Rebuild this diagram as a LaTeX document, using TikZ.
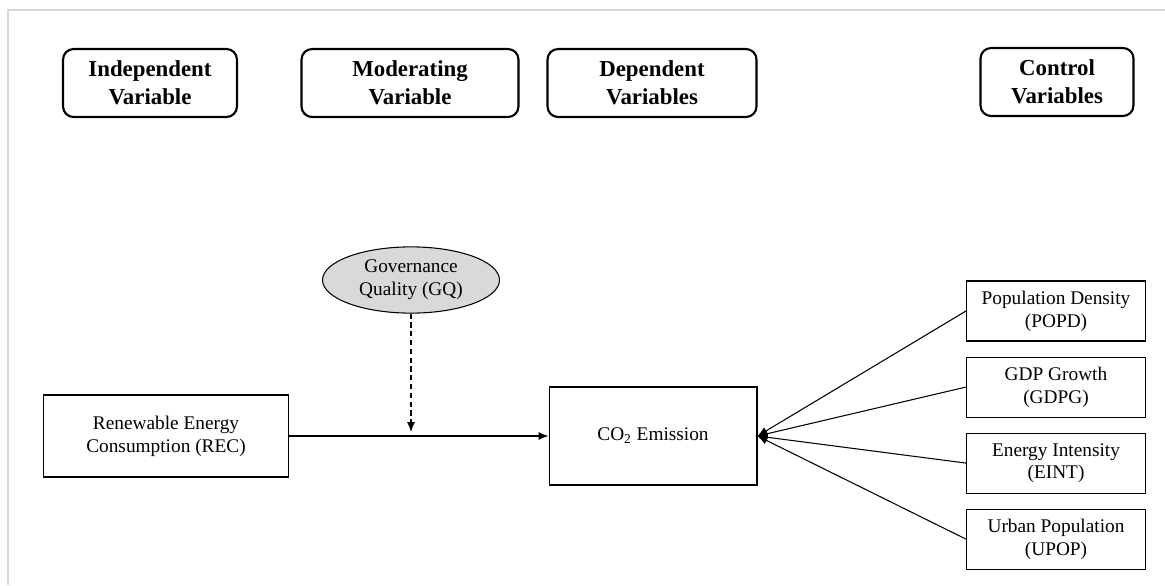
\documentclass[tikz,border=0pt]{standalone}
\usepackage{fontspec}
\setmainfont{Liberation Serif}
\usetikzlibrary{arrows.meta,positioning,shapes.geometric}
\definecolor{framegray}{HTML}{D9D9D9}
\definecolor{gqfill}{HTML}{D9D9D9}

\begin{document}
\begin{tikzpicture}[x=0.02cm,y=-0.02cm,
    hbox/.style={draw,line width=1.2pt,rounded corners=6pt,align=center,
      font=\fontsize{13}{16}\selectfont\bfseries,minimum height=1.36cm,inner sep=2pt},
    vbox/.style={draw,line width=0.6pt,align=center,font=\fontsize{11}{13}\selectfont,inner sep=2pt},
    cbox/.style={vbox,minimum width=3.58cm,minimum height=1.2cm},
    arr/.style={-{Latex[length=2mm,width=1.6mm]},line width=0.6pt},
    darr/.style={arr,dash pattern=on 3pt off 2pt}]
    \useasboundingbox (0,0) rectangle (1165,585);
    \draw[framegray,line width=1.5pt] (8,585) -- (8,10) -- (1165,10);
    % headers
    \node[hbox,minimum width=3.48cm](indep) at (150,83){Independent\\Variable};
    \node[hbox,minimum width=4.34cm](moder) at (410,83){Moderating\\Variable};
    \node[hbox,minimum width=4.18cm](depen) at (652,83){Dependent\\Variables};
    \node[hbox,minimum width=3.06cm](contr) at (1057,82){Control\\Variables};
    % model
    \node[vbox,ellipse,fill=gqfill,minimum width=3.54cm,minimum height=1.3cm](gq) at (411,280){Governance\\Quality (GQ)};
    \node[vbox,minimum width=4.9cm,minimum height=1.64cm](rec) at (166,436){Renewable Energy\\Consumption (REC)};
    \node[vbox,minimum width=4.16cm,minimum height=1.96cm](co2) at (653,436){CO\textsubscript{2} Emission};
    \node[cbox](popd) at (1056,311){Population Density\\(POPD)};
    \node[cbox,below=0.3cm of popd](gdpg){GDP Growth\\(GDPG)};
    \node[cbox,below=0.3cm of gdpg](eint){Energy Intensity\\(EINT)};
    \node[cbox,below=0.3cm of eint](upop){Urban Population\\(UPOP)};
    \path (gq.south |- rec.east) ++(0,-4) coordinate (gqend);
    \draw[arr](rec)--(co2);
    \draw[darr](gq.south)--(gqend);
    \foreach \n in {popd,gdpg,eint,upop}
      \draw[arr](\n.west)--(co2.east);
  \end{tikzpicture}
\end{document}
